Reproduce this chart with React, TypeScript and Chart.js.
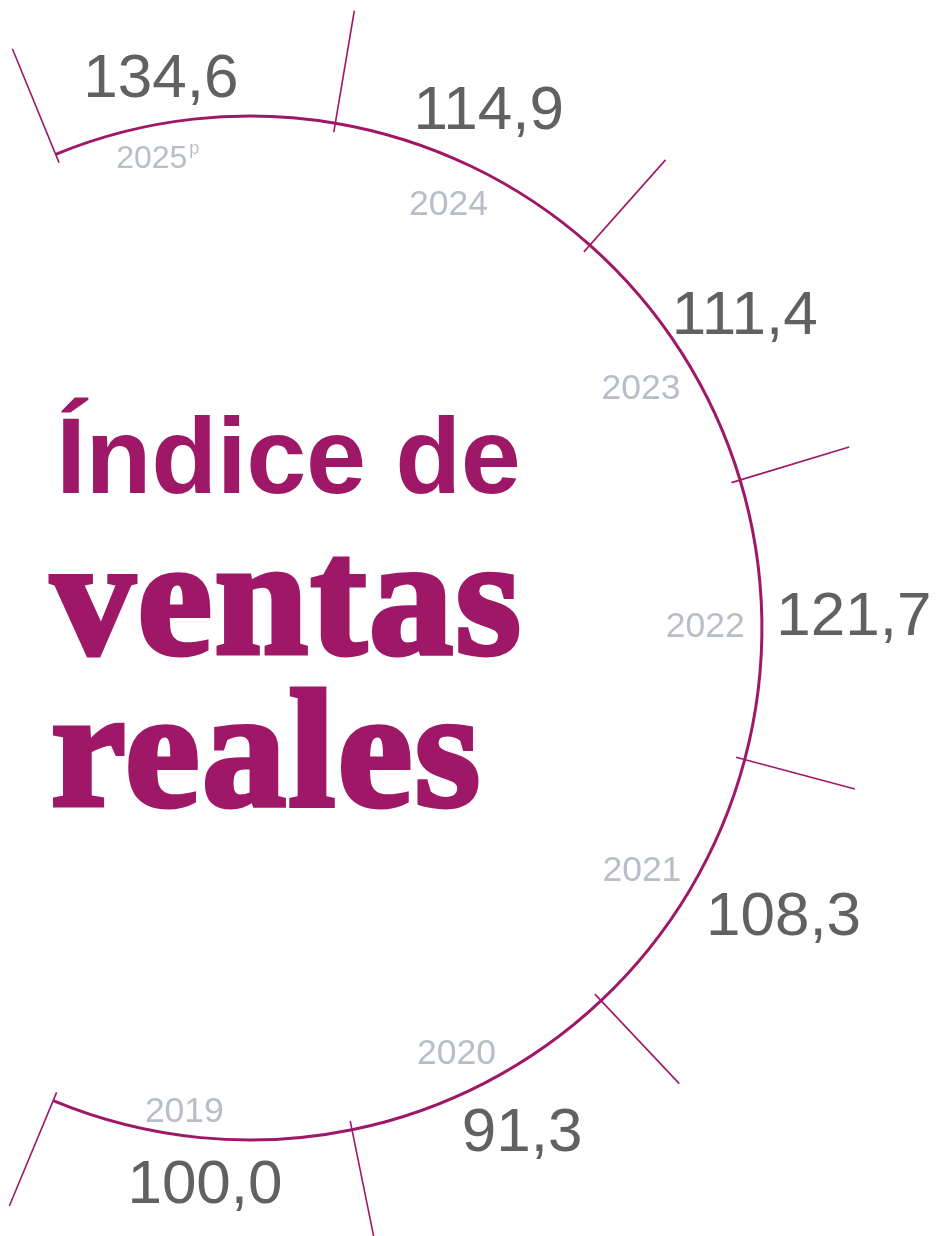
import React, { useEffect, useRef } from "react";
import { Chart, registerables } from "chart.js";

Chart.register(...registerables);

// Segments drawn clockwise from the top-left end of the arc
const years = ["2025", "2024", "2023", "2022", "2021", "2020", "2019"];
const yearSuffix = ["p", "", "", "", "", "", ""];
const values = [134.6, 114.9, 111.4, 121.7, 108.3, 91.3, 100.0];
// angular size (degrees) of each year's segment on the ring
const segmentDegrees = [31.9, 32.0, 31.6, 31.7, 31.8, 31.8, 34.1];

const titleLine1 = "Índice de";
const titleLine2 = "ventas";
const titleLine3 = "reales";

const MAGENTA = "#9f1868";
const VALUE_GREY = "#616161";
const YEAR_GREY = "#b8bdc8";

// style: small angular nudges (degrees) and gaps (px) of labels from the ring
const VALUE_NUDGE = [-2.8, -1.0, 0, -0.45, -2.7, -1.1, -0.9];
const VALUE_GAP = [14, 10, 2, 14, 14, 10, 14];
const YEAR_NUDGE = [-4.7, -0.6, 0.9, 0.45, 0.7, 1.4, 2.2];
const YEAR_GAP = [12, 14, 12, 17, 12, 12, 8];

const fmt = (v: number) => v.toFixed(1).replace(".", ",");

const DEG = Math.PI / 180;

function boxCenter(cx: number, cy: number, r: number, ang: number, w: number, h: number, dir: number) {
  const ux = Math.cos(ang);
  const uy = Math.sin(ang);
  const support = (w / 2) * Math.abs(ux) + (h / 2) * Math.abs(uy);
  const d = r + dir * support;
  return { x: cx + d * ux, y: cy + d * uy };
}

const ringPlugin = {
  id: "ringLabels",
  afterDatasetsDraw(chart: any) {
    const ctx = chart.ctx as CanvasRenderingContext2D;
    const arcs = chart.getDatasetMeta(0).data as any[];
    if (!arcs.length) return;
    const first = arcs[0].getProps(["x", "y", "innerRadius", "outerRadius"], true);
    const cx = first.x;
    const cy = first.y;
    const R = (first.innerRadius + first.outerRadius) / 2;

    ctx.save();
    // boundary ticks
    const bounds: number[] = arcs.map((a) => a.getProps(["startAngle"], true).startAngle);
    bounds.push(arcs[arcs.length - 1].getProps(["endAngle"], true).endAngle);
    ctx.strokeStyle = MAGENTA;
    ctx.lineWidth = 1.6;
    bounds.forEach((a) => {
      ctx.beginPath();
      ctx.moveTo(cx + (R - 9) * Math.cos(a), cy + (R - 9) * Math.sin(a));
      ctx.lineTo(cx + (R + 114) * Math.cos(a), cy + (R + 114) * Math.sin(a));
      ctx.stroke();
    });

    arcs.forEach((arc, i) => {
      const p = arc.getProps(["startAngle", "endAngle"], true);
      const mid = (p.startAngle + p.endAngle) / 2;

      // value label (outside)
      const vSize = 62;
      ctx.font = `${vSize}px "Liberation Sans", Arial, sans-serif`;
      const vText = fmt(values[i]);
      const vw = ctx.measureText(vText).width;
      const vh = vSize * 0.716;
      const vc = boxCenter(cx, cy, R + VALUE_GAP[i], mid + VALUE_NUDGE[i] * DEG, vw, vh, 1);
      ctx.fillStyle = VALUE_GREY;
      ctx.textAlign = "left";
      ctx.textBaseline = "alphabetic";
      ctx.fillText(vText, vc.x - vw / 2, vc.y + vh / 2);

      // year label (inside)
      const ySize = yearSuffix[i] ? 32 : 35.5;
      const sSize = 18;
      ctx.font = `${ySize}px "Liberation Sans", Arial, sans-serif`;
      const yw = ctx.measureText(years[i]).width;
      ctx.font = `${sSize}px "Liberation Sans", Arial, sans-serif`;
      const sw = yearSuffix[i] ? ctx.measureText(yearSuffix[i]).width + 2 : 0;
      const tw = yw + sw;
      const yh = ySize * 0.716;
      const yc = boxCenter(cx, cy, R - YEAR_GAP[i], mid + YEAR_NUDGE[i] * DEG, tw, yh, -1);
      const x0 = yc.x - tw / 2;
      const base = yc.y + yh / 2;
      ctx.fillStyle = YEAR_GREY;
      ctx.font = `${ySize}px "Liberation Sans", Arial, sans-serif`;
      ctx.fillText(years[i], x0, base);
      if (yearSuffix[i]) {
        ctx.font = `${sSize}px "Liberation Sans", Arial, sans-serif`;
        ctx.fillText(yearSuffix[i], x0 + yw + 2, base - yh + sSize * 0.52);
      }
    });
    ctx.restore();
  },
};

export default function App() {
  const ref = useRef<HTMLCanvasElement | null>(null);

  useEffect(() => {
    if (!ref.current) return;
    const total = segmentDegrees.reduce((a, b) => a + b, 0);
    const chart = new Chart(ref.current, {
      type: "doughnut",
      data: {
        labels: years,
        datasets: [
          {
            data: segmentDegrees,
            backgroundColor: MAGENTA,
            borderWidth: 0,
            hoverOffset: 0,
            clip: false as any,
          },
        ],
      },
      options: {
        responsive: false,
        animation: false,
        events: [],
        rotation: -22.3,
        circumference: total,
        radius: 513.5,
        cutout: "99.42%",
        layout: { padding: { left: 0, right: 121, top: 20, bottom: 0 } },
        plugins: {
          legend: { display: false },
          tooltip: { enabled: false },
          title: { display: false },
        },
      } as any,
      plugins: [ringPlugin],
    });
    return () => chart.destroy();
  }, []);

  return (
    <div style={{ position: "absolute", left: 0, top: 0, width: 937, height: 1236, background: "#fff", overflow: "hidden" }}>
      <canvas ref={ref} width={937} height={1236} style={{ position: "absolute", left: 0, top: 0, display: "block" }} />
      <div
        style={{
          position: "absolute",
          left: 56,
          top: 402,
          fontFamily: '"Liberation Sans", Arial, sans-serif',
          fontWeight: 700,
          fontSize: 108,
          lineHeight: "108px",
          color: MAGENTA,
          whiteSpace: "nowrap",
          letterSpacing: -0.4,
        }}
      >
        {titleLine1}
      </div>
      <div
        style={{
          position: "absolute",
          left: 51,
          top: 520,
          fontFamily: '"Liberation Serif", "Times New Roman", serif',
          fontWeight: 700,
          fontSize: 168,
          lineHeight: "152px",
          color: MAGENTA,
          whiteSpace: "nowrap",
          letterSpacing: 2.5,
          WebkitTextStroke: `5px ${MAGENTA}`,
        }}
      >
        <div>{titleLine2}</div>
        <div>{titleLine3}</div>
      </div>
    </div>
  );
}
